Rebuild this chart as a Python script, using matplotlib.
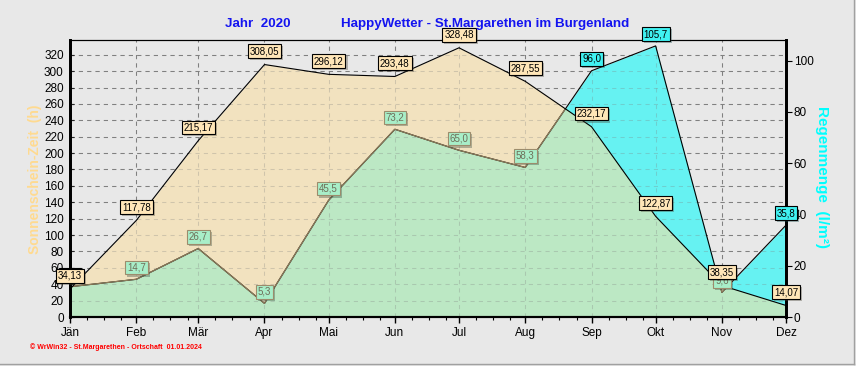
import matplotlib.pyplot as plt
import matplotlib.dates as mdates
import matplotlib.patheffects as pe
from matplotlib.lines import Line2D
import numpy as np

plt.rcParams['font.family'] = ['Liberation Sans', 'DejaVu Sans']

# data (monthly values 2020)
months = np.array(['2020-%02d-01' % m for m in range(1, 13)], dtype='datetime64[D]')
month_names = ['Jän', 'Feb', 'Mär', 'Apr', 'Mai', 'Jun', 'Jul', 'Aug', 'Sep', 'Okt', 'Nov', 'Dez']
sun_hours = [34.13, 117.78, 215.17, 308.05, 296.12, 293.48, 328.48, 287.55, 232.17, 122.87, 38.35, 14.07]
rain_mm = [11.8, 14.7, 26.7, 5.3, 45.5, 73.2, 65.0, 58.3, 96.0, 105.7, 9.6, 35.8]

SUN_MAX = 338
RAIN_MAX = 108
BG = '#E8E8E8'
GRID = '#808080'
DASH = (0, (4, 4))

fig = plt.figure(figsize=(8.56, 3.66), dpi=100, facecolor=BG)
ax = fig.add_axes([70 / 856, 1 - 317 / 366, 716 / 856, 277 / 366])
ax.set_facecolor(BG)
ax.set_xlim(months[0], months[-1])
ax.set_ylim(0, SUN_MAX)
ax2 = ax.twinx()
ax2.set_ylim(0, RAIN_MAX)

# grid below the areas
ax.set_axisbelow(True)
ax.set_yticks(np.arange(0, 321, 20))
ax.set_xticks(months)
ax.set_xticklabels(month_names)
ax.xaxis.set_minor_locator(mdates.DayLocator(bymonthday=[9, 17, 25]))
ax.grid(True, which='major', color=GRID, linestyle=DASH, linewidth=0.75)

# areas
sun_fill = ax.fill_between(months, sun_hours, color='#F2E2BF', lw=0, zorder=1)
sun_path = sun_fill.get_paths()[0]
ax.fill_between(months, rain_mm, color='#66F2F2', lw=0, zorder=1.1, transform=ax2.transData)
overlap = ax.fill_between(months, rain_mm, color='#BCE8C4', lw=0, zorder=1.2, transform=ax2.transData)
overlap.set_clip_path(sun_path, ax.transData)

# faint grid over the areas
xnum = mdates.date2num(months)
ax.hlines(np.arange(20, 321, 20), xnum[0], xnum[-1], colors=GRID, linestyles=DASH,
          linewidth=0.75, alpha=0.3, zorder=1.5)
ax.vlines(xnum[1:-1], 0, SUN_MAX, colors=GRID, linestyles=DASH, linewidth=0.75, alpha=0.3, zorder=1.5)

# outlines
ax.plot(months, rain_mm, color='black', lw=0.8, zorder=1.8, transform=ax2.transData)
inner, = ax.plot(months, rain_mm, color='#8C7B5A', lw=0.9, zorder=1.9, transform=ax2.transData)
inner.set_clip_path(sun_path, ax.transData)
ax.plot(months, sun_hours, color='black', lw=0.8, zorder=2)

# value labels
shadow = [pe.SimplePatchShadow(offset=(1.5, -1.5), alpha=0.35), pe.Normal()]
for i in range(12):
    r = rain_mm[i]
    above = r / RAIN_MAX > sun_hours[i] / SUN_MAX
    if above:
        fc, ec, tc = '#40F2F2', 'black', 'black'
    else:
        fc, ec, tc = '#A8EEC8', '#9C8C6C', '#6E6E58'
    t = ax2.annotate(('%.1f' % r).replace('.', ','), xy=(xnum[i], r), xytext=(0, 8.5),
                     textcoords='offset points', ha='center', va='center', fontsize=7, color=tc,
                     bbox=dict(boxstyle='square,pad=0.2', fc=fc, ec=ec, lw=0.8), zorder=5)
    t.get_bbox_patch().set_path_effects(shadow)

for i in range(12):
    s = sun_hours[i]
    t = ax2.annotate(('%.2f' % s).replace('.', ','), xy=(xnum[i], s), xycoords=ax.transData,
                     xytext=(0, 9.5), textcoords='offset points', ha='center', va='center',
                     fontsize=7, color='black',
                     bbox=dict(boxstyle='square,pad=0.2', fc='#FFE6B8', ec='black', lw=0.8), zorder=6)
    t.get_bbox_patch().set_path_effects(shadow)

# axes styling
for a in (ax, ax2):
    a.spines['left'].set_linewidth(2)
    a.spines['right'].set_linewidth(2)
    a.spines['bottom'].set_linewidth(1.5)
    a.spines['top'].set_linewidth(0.8)
ax.tick_params(axis='y', direction='in', length=3, pad=4.5, labelsize=8.5)
ax.tick_params(axis='x', which='major', direction='out', length=4, width=1, pad=3, labelsize=8.5)
ax.tick_params(axis='x', which='minor', direction='out', length=2, width=0.8)
ax2.set_yticks(np.arange(0, 101, 20))
ax2.tick_params(axis='y', direction='out', length=4, pad=1.5, labelsize=8.5)

# texts
fig.text(258 / 856, 1 - 24 / 366, 'Jahr  2020', color='#1414F0', fontsize=9.6,
         fontweight='bold', ha='center', va='center')
fig.text(341 / 856, 1 - 24 / 366, 'HappyWetter - St.Margarethen im Burgenland', color='#1414F0',
         fontsize=9.6, fontweight='bold', ha='left', va='center')
fig.text(35 / 856, 1 - 179 / 366, 'Sonnenschein-Zeit  (h)', color='#FFDA90', fontsize=10,
         fontweight='bold', rotation=90, ha='center', va='center')
fig.text(822 / 856, 1 - 177 / 366, 'Regenmenge  (l/m²)', color='#00FFFF', fontsize=11,
         fontweight='bold', rotation=270, ha='center', va='center')
fig.text(30 / 856, 1 - 347 / 366, '© WrWin32 - St.Margarethen - Ortschaft  01.01.2024', color='red',
         fontsize=5, fontweight='bold', ha='left', va='center')

# window frame
fig.add_artist(Line2D([853.5 / 856] * 2, [1 - 364 / 366, 1], color='#A0A0A0', lw=1))
fig.add_artist(Line2D([0, 853.5 / 856], [1 - 364 / 366] * 2, color='#A0A0A0', lw=1))

fig.savefig('out.png', dpi=100, facecolor=BG)
